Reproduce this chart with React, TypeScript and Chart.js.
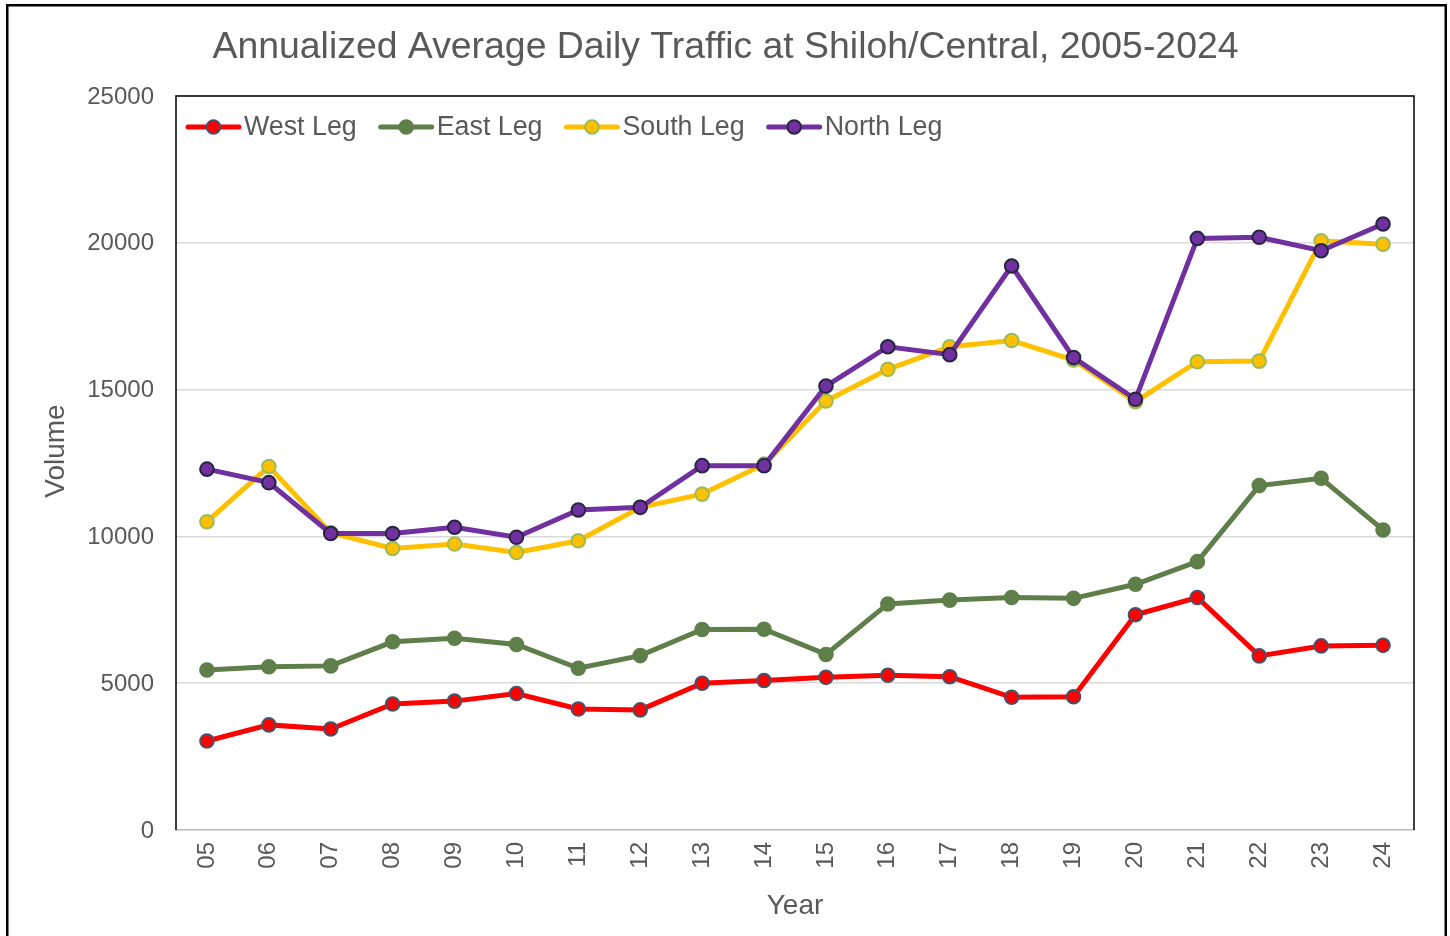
import React, { useEffect, useRef } from "react";
import { Chart, registerables } from "chart.js";

Chart.register(...registerables);

const chartTitle = "Annualized Average Daily Traffic at Shiloh/Central, 2005-2024";
const xTitle = "Year";
const yTitle = "Volume";

const years = ["05", "06", "07", "08", "09", "10", "11", "12", "13", "14", "15", "16", "17", "18", "19", "20", "21", "22", "23", "24"];

const westLeg = [3030, 3580, 3440, 4290, 4390, 4650, 4120, 4090, 5000, 5090, 5200, 5270, 5220, 4520, 4540, 7330, 7920, 5930, 6270, 6290];
const eastLeg = [5450, 5560, 5590, 6410, 6530, 6320, 5510, 5940, 6830, 6840, 5980, 7700, 7830, 7920, 7890, 8370, 9140, 11730, 11980, 10220];
const southLeg = [10500, 12380, 10120, 9590, 9740, 9450, 9850, 10990, 11440, 12460, 14610, 15690, 16460, 16670, 16010, 14590, 15950, 15970, 20070, 19950];
const northLeg = [12290, 11830, 10100, 10100, 10310, 9970, 10900, 10990, 12410, 12410, 15120, 16460, 16190, 19210, 16090, 14670, 20150, 20190, 19730, 20640];

const seriesNames = ["West Leg", "East Leg", "South Leg", "North Leg"];
const seriesColors = ["#FF0000", "#5F7F4A", "#FFC000", "#7030A0"];
const markerBorders = ["#44546A", "#5F7F4A", "#9BBB59", "#262640"];

const yMin = 0;
const yMax = 25000;
const yStep = 5000;

const FONT = "'Liberation Sans', Arial, sans-serif";
const TEXT = "#595959";

const decorPlugin = {
  id: "decor",
  beforeDraw(chart: any) {
    const { ctx, width, height } = chart;
    ctx.save();
    ctx.fillStyle = "#ffffff";
    ctx.fillRect(0, 0, width, height);
    ctx.strokeStyle = "#000000";
    ctx.lineWidth = 2.5;
    ctx.strokeRect(7.25, 5.25, 1438.5, height + 20);
    ctx.restore();
  },
  beforeDatasetsDraw(chart: any) {
    const { ctx, chartArea } = chart;
    const { left, right, top, bottom } = chartArea;
    ctx.save();
    ctx.strokeStyle = "#000000";
    ctx.lineWidth = 1.5;
    ctx.beginPath();
    ctx.moveTo(left, bottom);
    ctx.lineTo(left, top);
    ctx.lineTo(right, top);
    ctx.lineTo(right, bottom);
    ctx.stroke();
    ctx.restore();
  },
  afterDraw(chart: any) {
    const { ctx, chartArea } = chart;
    ctx.save();
    // title
    ctx.fillStyle = TEXT;
    ctx.font = `37.4px ${FONT}`;
    ctx.textAlign = "center";
    ctx.textBaseline = "middle";
    ctx.fillText(chartTitle, 725.5, 48);
    // x title
    ctx.font = `28px ${FONT}`;
    ctx.fillText(xTitle, (chartArea.left + chartArea.right) / 2, 906);
    // y title
    ctx.save();
    ctx.translate(56, 451);
    ctx.rotate(-Math.PI / 2);
    ctx.fillText(yTitle, 0, 0);
    ctx.restore();

    // legend
    const ly = 127;
    let x = 186;
    ctx.font = `26.8px ${FONT}`;
    ctx.textAlign = "left";
    chart.data.datasets.forEach((ds: any) => {
      ctx.strokeStyle = ds.borderColor;
      ctx.lineWidth = 5;
      ctx.lineCap = "round";
      ctx.beginPath();
      ctx.moveTo(x + 2, ly);
      ctx.lineTo(x + 53, ly);
      ctx.stroke();
      ctx.beginPath();
      ctx.arc(x + 27.5, ly, 6.8, 0, Math.PI * 2);
      ctx.fillStyle = ds.pointBackgroundColor;
      ctx.fill();
      ctx.lineWidth = 2;
      ctx.strokeStyle = ds.pointBorderColor;
      ctx.stroke();
      ctx.fillStyle = TEXT;
      const tx = x + 58;
      ctx.fillText(ds.label, tx, ly + 1);
      x = tx + ctx.measureText(ds.label).width + 22;
    });
    ctx.restore();
  },
};

export default function App() {
  const ref = useRef<HTMLCanvasElement | null>(null);

  useEffect(() => {
    if (!ref.current) return;
    const allSeries = [westLeg, eastLeg, southLeg, northLeg];
    const chart = new Chart(ref.current, {
      type: "line",
      data: {
        labels: years,
        datasets: allSeries.map((vals, i) => ({
          label: seriesNames[i],
          data: vals,
          borderColor: seriesColors[i],
          backgroundColor: seriesColors[i],
          pointBackgroundColor: seriesColors[i],
          pointBorderColor: markerBorders[i],
          pointBorderWidth: 2,
          pointRadius: 6.8,
          borderWidth: 5,
          tension: 0,
          fill: false,
          order: 4 - i,
        })),
      },
      options: {
        responsive: false,
        animation: false,
        devicePixelRatio: 1,
        layout: { padding: { top: 96, left: 0, right: 36, bottom: 0 } },
        plugins: {
          legend: { display: false },
          title: { display: false },
          tooltip: { enabled: false },
        },
        scales: {
          x: {
            type: "category",
            offset: true,
            grid: { display: false, drawTicks: false },
            border: { display: true, color: "#BFBFBF", width: 1.5 },
            ticks: {
              color: TEXT,
              font: { family: FONT, size: 24 },
              minRotation: 90,
              maxRotation: 90,
              padding: 12,
              autoSkip: false,
            },
            afterFit(scale: any) {
              scale.height = 106;
            },
          },
          y: {
            min: yMin,
            max: yMax,
            grid: { color: "#D9D9D9", lineWidth: 1.5, drawTicks: false },
            border: { display: false },
            ticks: {
              stepSize: yStep,
              color: TEXT,
              font: { family: FONT, size: 24 },
              padding: 22,
              labelOffset: 1,
              callback: (v: any) => String(v),
            },
            afterFit(scale: any) {
              scale.width = 176;
            },
          },
        },
      },
      plugins: [decorPlugin],
    });
    return () => chart.destroy();
  }, []);

  return (
    <div style={{ position: "absolute", left: 0, top: 0, width: 1450, height: 936, background: "#fff" }}>
      <canvas ref={ref} width={1450} height={936} style={{ width: 1450, height: 936, display: "block" }} />
    </div>
  );
}
